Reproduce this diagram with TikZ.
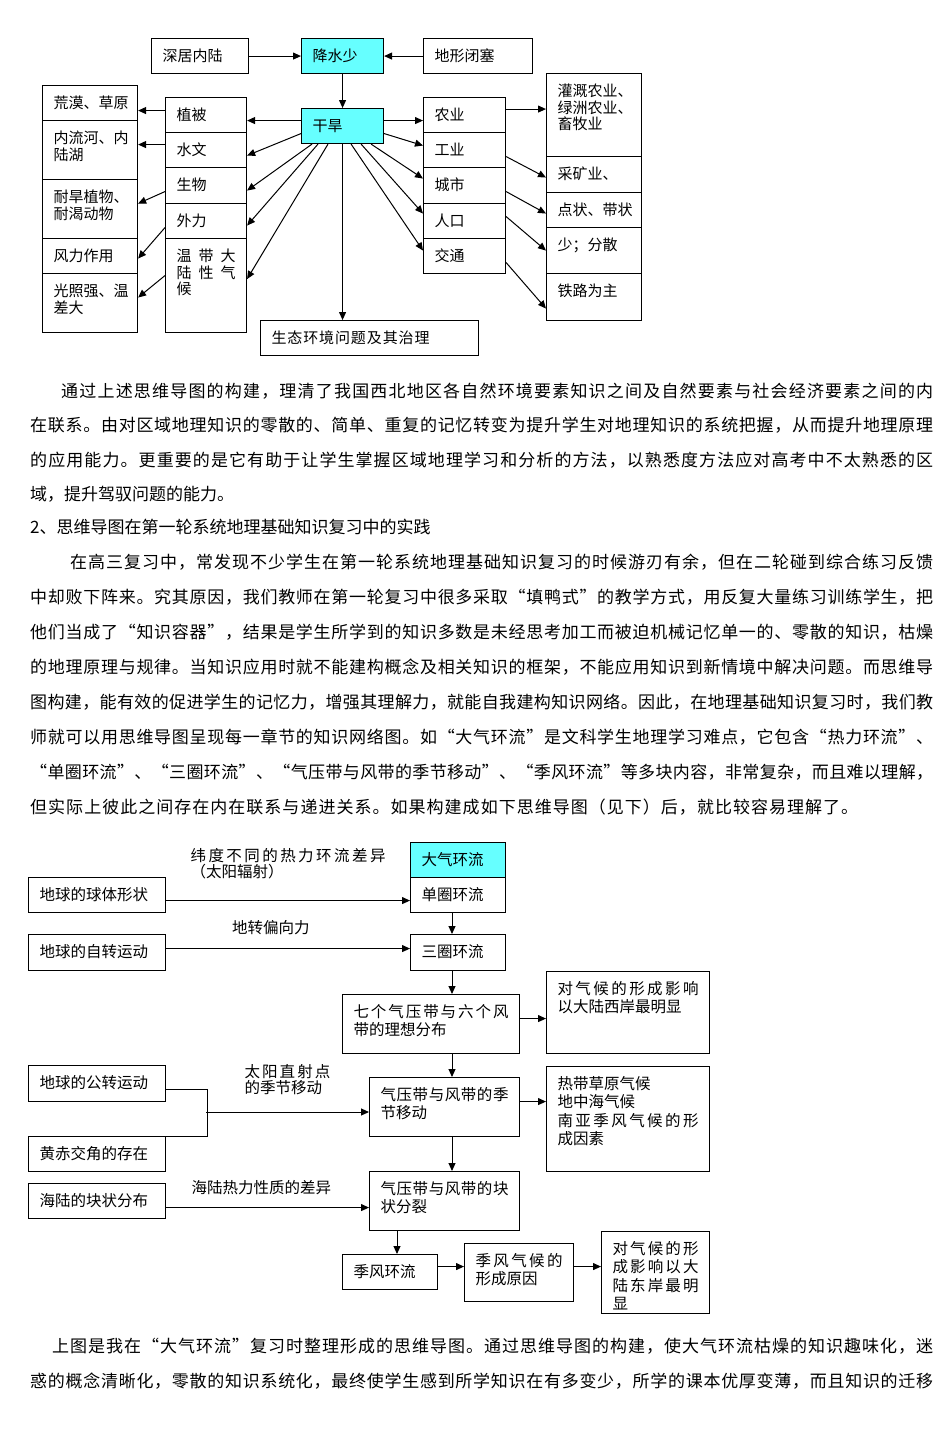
\documentclass[tikz,border=0pt]{standalone}
\usepackage{fontspec}
\setmainfont{Noto Sans CJK SC}
\usetikzlibrary{arrows.meta,positioning}
\definecolor{aqua}{RGB}{102,255,255}
% a line of CJK text spread out to a given width
\ExplSyntaxOn
\NewDocumentCommand\jline{O{\linewidth}m}
  {\makebox[#1][s]{\tl_map_inline:nn{#2}{##1\hskip 0pt plus 1fil}\unskip}}
\ExplSyntaxOff

\begin{document}
\begin{tikzpicture}[x=1pt, y=-1pt,
  cell/.code 2 args={\pgfmathsetmacro\cellw{#1-22}\pgfmathsetmacro\celld{#2-23}%
    \tikzset{draw, line width=1.1pt, anchor=north west, inner xsep=11pt, inner ysep=0pt,
      text width=\cellw pt, text height=23pt, text depth=\celld pt, align=left}},
  hot/.style={fill=aqua},
  arr/.style={-{Triangle[length=8pt,width=7pt]}, line width=1pt},
  link/.style={line width=1pt},
  txt/.style={anchor=west, inner sep=0pt, font=\fontsize{17}{20}\selectfont},
  lbl/.style={inner sep=0pt, align=left, font=\fontsize{15.5}{16}\selectfont}
]
\path[use as bounding box, fill=white] (0,0) rectangle (950,1433);

% first map: the dry north-west
\begin{scope}[font=\fontsize{15}{16.5}\selectfont]
\node[cell={97}{35}] (shenju) at (151,38) {深居内陆};
\node[cell={82}{35}, hot] (jiangshui) at (301,38) {降水少};
\node[cell={109}{35}] (dixing) at (423,38) {地形闭塞};
\node[cell={82}{35}, hot] (ganhan) at (301,108) {干旱};

\node[cell={81}{35}] (zhibei) at (165,97) {植被};
\node[cell={81}{35}] (shuiwen) at (165,132) {水文};
\node[cell={81}{36}] (shengwu) at (165,167) {生物};
\node[cell={81}{35}] (waili) at (165,203) {外力};
\node[cell={81}{94}] (qihou) at (165,238) {\jline{温带大}\\\jline{陆性气}\\候};

\node[cell={95}{35}] (huangmo) at (42,85) {荒漠、草原};
\node[cell={95}{59}] (neiliu) at (42,120) {内流河、内\\陆湖};
\node[cell={95}{59}] (naihan) at (42,179) {耐旱植物、\\耐渴动物};
\node[cell={95}{35}] (fengli) at (42,238) {风力作用};
\node[cell={95}{59}] (guangzhao) at (42,273) {光照强、温\\差大};

\node[cell={82}{35}] (nongye) at (423,97) {农业};
\node[cell={82}{35}] (gongye) at (423,132) {工业};
\node[cell={82}{36}] (chengshi) at (423,167) {城市};
\node[cell={82}{35}] (renkou) at (423,203) {人口};
\node[cell={82}{35}] (jiaotong) at (423,238) {交通};

\node[cell={95}{83}] (guangai) at (546,73) {灌溉农业、\\绿洲农业、\\畜牧业};
\node[cell={95}{36}] (caikuang) at (546,156) {采矿业、};
\node[cell={95}{35}] (dianzhuang) at (546,192) {点状、带状};
\node[cell={95}{46}] (shao) at (546,227) {少；分散};
\node[cell={95}{47}] (tielu) at (546,273) {铁路为主};

\node[cell={218}{35}] (shengtai) at (260,320) {\jline[158pt]{生态环境问题及其治理}};
\end{scope}

\draw[arr] (shenju) -- (jiangshui);
\draw[arr] (dixing) -- (jiangshui);
\draw[arr] (jiangshui) -- (ganhan);
\draw[arr] ([yshift=5.5pt]ganhan.west) -- ([yshift=-5.5pt]zhibei.east);
\draw[arr] ([yshift=-7.5pt]ganhan.west) -- ([yshift=-5.5pt]shuiwen.east);
\draw[arr] ([xshift=11pt]ganhan.south west) -- ([yshift=-5pt]shengwu.east);
\draw[arr] ([xshift=17pt]ganhan.south west) -- ([yshift=-4.5pt]waili.east);
\draw[arr] ([xshift=27pt]ganhan.south west) -- ([yshift=6.5pt]qihou.east);
\draw[arr] (ganhan.south) -- (ganhan.south |- shengtai.north);
\draw[arr] ([yshift=5.5pt]ganhan.east) -- ([yshift=-5.5pt]nongye.west);
\draw[arr] ([yshift=-7.5pt]ganhan.east) -- ([yshift=4.5pt]gongye.west);
\draw[arr] ([xshift=-13pt]ganhan.south east) -- ([yshift=7pt]chengshi.west);
\draw[arr] ([xshift=-23pt]ganhan.south east) -- ([yshift=7.5pt]renkou.west);
\draw[arr] ([xshift=-33pt]ganhan.south east) -- ([yshift=5.5pt]jiaotong.west);

\draw[arr] ([yshift=4.5pt]zhibei.west) -- ([yshift=-7.5pt]huangmo.east);
\draw[arr] ([yshift=5.5pt]shuiwen.west) -- ([yshift=5.5pt]neiliu.east);
\draw[arr] ([yshift=-6pt]shengwu.west) -- ([yshift=5.5pt]naihan.east);
\draw[arr] ([yshift=-6.5pt]waili.west) -- ([yshift=-2.5pt]fengli.east);
\draw[arr] ([yshift=10pt]qihou.west) -- ([yshift=5.5pt]guangzhao.east);

\draw[arr] ([yshift=6pt]nongye.east) -- ([yshift=6pt]guangai.west);
\draw[arr] ([yshift=-6.5pt]gongye.east) -- ([yshift=-3pt]caikuang.west);
\draw[arr] ([yshift=-6pt]chengshi.east) -- ([yshift=-3.5pt]dianzhuang.west);
\draw[arr] ([yshift=4.5pt]renkou.east) -- (shao.west);
\draw[arr] ([yshift=-6.5pt]jiaotong.east) -- ([yshift=-11.5pt]tielu.west);

% running text
\node[txt] (p1a) at (61,391) {\jline[872pt]{通过上述思维导图的构建，理清了我国西北地区各自然环境要素知识之间及自然要素与社会经济要素之间的内}};
\node[txt] (p1b) at (30,425) {\jline[903pt]{在联系。由对区域地理知识的零散的、简单、重复的记忆转变为提升学生对地理知识的系统把握，从而提升地理原理}};
\node[txt] (p1c) at (30,460) {\jline[903pt]{的应用能力。更重要的是它有助于让学生掌握区域地理学习和分析的方法，以熟悉度方法应对高考中不太熟悉的区}};
\node[txt] (p1d) at (30,494) {域，提升驾驭问题的能力。};
\node[txt] (head) at (30,527) {2、思维导图在第一轮系统地理基础知识复习中的实践};
\node[txt] (p2a) at (70,562) {\jline[863pt]{在高三复习中，常发现不少学生在第一轮系统地理基础知识复习的时候游刃有余，但在二轮碰到综合练习反馈}};
\node[txt] (p2b) at (30,597) {\jline[903pt]{中却败下阵来。究其原因，我们教师在第一轮复习中很多采取“填鸭式”的教学方式，用反复大量练习训练学生，把}};
\node[txt] (p2c) at (30,632) {\jline[903pt]{他们当成了“知识容器”，结果是学生所学到的知识多数是未经思考加工而被迫机械记忆单一的、零散的知识，枯燥}};
\node[txt] (p2d) at (30,667) {\jline[903pt]{的地理原理与规律。当知识应用时就不能建构概念及相关知识的框架，不能应用知识到新情境中解决问题。而思维导}};
\node[txt] (p2e) at (30,702) {\jline[903pt]{图构建，能有效的促进学生的记忆力，增强其理解力，就能自我建构知识网络。因此，在地理基础知识复习时，我们教}};
\node[txt] (p2f) at (30,737) {\jline[903pt]{师就可以用思维导图呈现每一章节的知识网络图。如“大气环流”是文科学生地理学习难点，它包含“热力环流”、}};
\node[txt] (p2g) at (30,772) {\jline[903pt]{“单圈环流”、“三圈环流”、“气压带与风带的季节移动”、“季风环流”等多块内容，非常复杂，而且难以理解，}};
\node[txt] (p2h) at (30,807) {\jline[828pt]{但实际上彼此之间存在内在联系与递进关系。如果构建成如下思维导图（见下）后，就比较容易理解了。}};

% second map: general circulation
\begin{scope}[font=\fontsize{15.5}{18.3}\selectfont]
\node[cell={95}{35}, hot] (daqi) at (410,842) {大气环流};
\node[cell={95}{35}] (dan) at (410,877) {单圈环流};
\node[cell={137}{35}] (qiuti) at (28,877) {地球的球体形状};
\node[cell={137}{36}] (zizhuan) at (28,934) {地球的自转运动};
\node[cell={95}{36}] (sanquan) at (410,934) {三圈环流};
\node[cell={177}{59}] (qige) at (342,994) {\jline{七个气压带与六个风}\\带的理想分布};
\node[cell={163}{82}] (xian) at (546,971) {\jline{对气候的形成影响}\\以大陆西岸最明显};
\node[cell={137}{36}] (gongzhuan) at (28,1065) {地球的公转运动};
\node[cell={137}{35}] (huangchi) at (28,1136) {黄赤交角的存在};
\node[cell={150}{59}] (jijie) at (369,1077) {\jline{气压带与风带的季}\\节移动};
\node[cell={163}{105}] (redai) at (546,1066) {热带草原气候\\地中海气候\\\jline{南亚季风气候的形}\\成因素};
\node[cell={137}{35}] (haelu) at (28,1183) {海陆的块状分布};
\node[cell={150}{59}] (kuai) at (369,1171) {\jline{气压带与风带的块}\\状分裂};
\node[cell={95}{35}] (jifeng) at (342,1254) {季风环流};
\node[cell={109}{58}] (xingcheng) at (464,1243) {\jline{季风气候的}\\形成原因};
\node[cell={108}{82}] (dongan) at (601,1231) {\jline{对气候的形}\\\jline{成影响以大}\\\jline{陆东岸最明}\\显};
\end{scope}

\coordinate (spine) at (452,900);
\coordinate (fork) at (206,1112);
\coordinate (drop) at (397,1240);

\draw[arr] ([yshift=-5.5pt]qiuti.east) -- ([yshift=-5.5pt]dan.west)
  node[lbl, midway, above=21pt] {\jline[195pt]{纬度不同的热力环流差异}\\（太阳辐射）};
\draw[arr] ([yshift=4pt]zizhuan.east) -- ([yshift=4pt]sanquan.west)
  node[lbl, pos=0.43, above=13pt] {地转偏向力};
\draw[arr] (dan.south -| spine) -- (sanquan.north -| spine);
\draw[arr] (sanquan.south -| spine) -- (qige.north -| spine);
\draw[arr] (qige.south -| spine) -- (jijie.north -| spine);
\draw[arr] (jijie.south -| spine) -- (kuai.north -| spine);
\draw[arr] (kuai.south -| drop) -- (jifeng.north -| drop);
\draw[arr] ([yshift=5.5pt]qige.east) -- ([yshift=5.5pt]qige.east -| xian.west);
\draw[arr] ([yshift=5.5pt]jijie.east) -- ([yshift=5.5pt]jijie.east -| redai.west);
\draw[link] ([yshift=-6pt]gongzhuan.east) -- ++(41,0) |- (huangchi.north east);
\draw[arr] (fork) -- (fork -| jijie.west)
  node[lbl, midway, above=17pt] {\jline[86pt]{太阳直射点}\\的季节移动};
\draw[arr] ([yshift=-6.5pt]haelu.east) -- ([yshift=-6.5pt]kuai.west)
  node[lbl, pos=0.47, above=12pt] {海陆热力性质的差异};
\draw[arr] ([yshift=5.5pt]jifeng.east) -- ([yshift=5.5pt]jifeng.east -| xingcheng.west);
\draw[arr] ([yshift=6pt]xingcheng.east) -- ([yshift=6pt]xingcheng.east -| dongan.west);

\node[txt] (p3a) at (52,1346) {\jline[881pt]{上图是我在“大气环流”复习时整理形成的思维导图。通过思维导图的构建，使大气环流枯燥的知识趣味化，迷}};
\node[txt] (p3b) at (30,1381) {\jline[903pt]{惑的概念清晰化，零散的知识系统化，最终使学生感到所学知识在有多变少，所学的课本优厚变薄，而且知识的迁移}};
\end{tikzpicture}
\end{document}
